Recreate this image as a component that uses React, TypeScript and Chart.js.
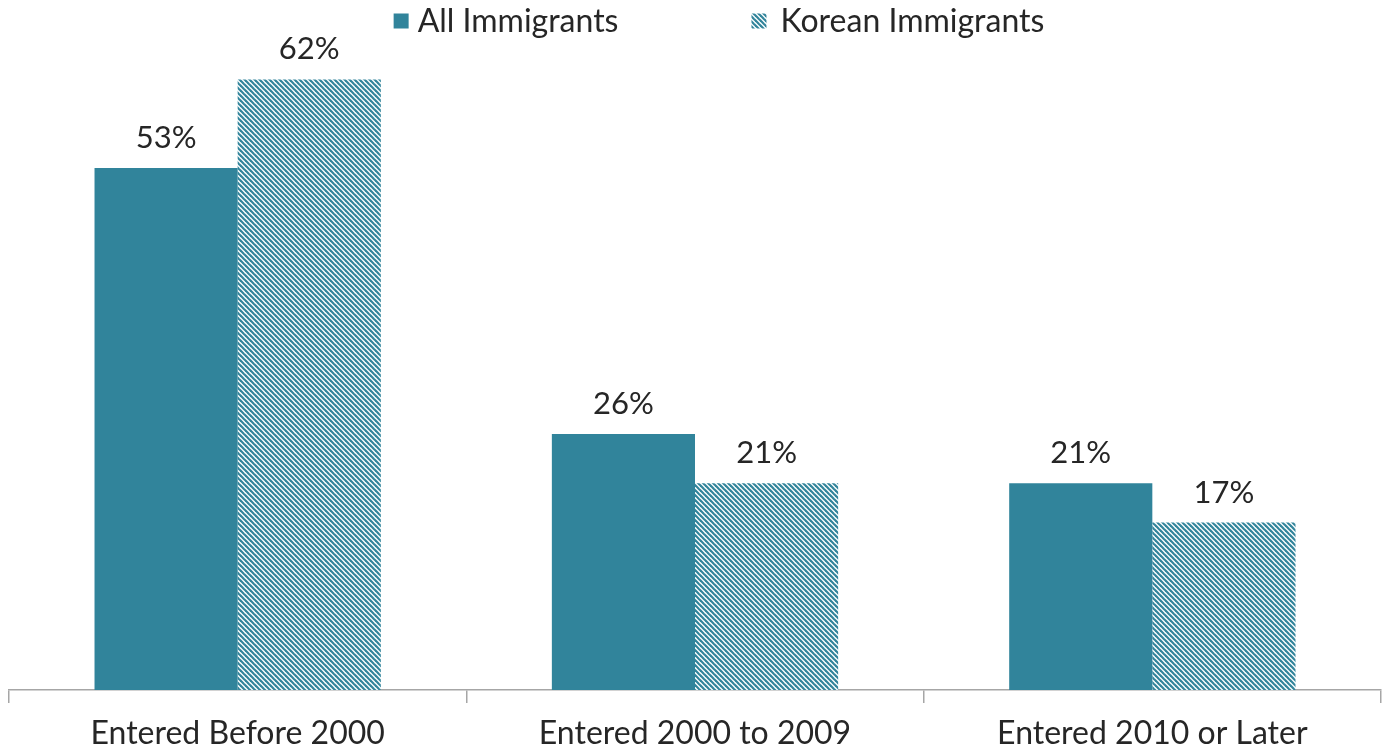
import React, { useEffect, useRef } from "react";
import { Chart, registerables } from "chart.js";

Chart.register(...registerables);

const categories = ["Entered Before 2000", "Entered 2000 to 2009", "Entered 2010 or Later"];
const seriesNames = ["All Immigrants", "Korean Immigrants"];
const allImmigrants = [53, 26, 21];
const koreanImmigrants = [62, 21, 17];

const TEAL = "#31849B";
const TEXT = "#262626";
const AXIS = "#a6a6a6";
const FONT = "Lato";

function makePattern(): CanvasPattern | string {
  const c = document.createElement("canvas");
  const s = 5;
  c.width = s;
  c.height = s;
  const ctx = c.getContext("2d");
  if (!ctx) return TEAL;
  ctx.fillStyle = "#ffffff";
  ctx.fillRect(0, 0, s, s);
  ctx.strokeStyle = TEAL;
  ctx.lineWidth = 2.2;
  for (const off of [-s, 0, s]) {
    ctx.beginPath();
    ctx.moveTo(off - 1, -1);
    ctx.lineTo(off + s + 1, s + 1);
    ctx.stroke();
  }
  const p = ctx.createPattern(c, "repeat");
  return p || TEAL;
}

const valueLabels = {
  id: "valueLabels",
  afterDatasetsDraw(chart: any) {
    const ctx = chart.ctx;
    ctx.save();
    ctx.font = `31px ${FONT}`;
    ctx.fillStyle = TEXT;
    ctx.textAlign = "center";
    ctx.textBaseline = "alphabetic";
    chart.data.datasets.forEach((ds: any, i: number) => {
      const meta = chart.getDatasetMeta(i);
      meta.data.forEach((bar: any, j: number) => {
        ctx.fillText(`${ds.data[j]}%`, bar.x, bar.y - 20);
      });
    });
    ctx.restore();
  },
};

const topLegend = {
  id: "topLegend",
  afterDraw(chart: any) {
    const ctx = chart.ctx;
    ctx.save();
    ctx.font = `32px ${FONT}`;
    ctx.textBaseline = "middle";
    ctx.textAlign = "left";
    const box = 15;
    const gaps = [9, 14];
    const itemGap = 133;
    const ds = chart.data.datasets;
    const widths = ds.map((d: any) => ctx.measureText(d.label).width);
    let total = 0;
    ds.forEach((_: any, i: number) => {
      total += box + gaps[i] + widths[i];
      if (i < ds.length - 1) total += itemGap;
    });
    let x = chart.width / 2 + 25 - total / 2;
    const cy = 21;
    ds.forEach((d: any, i: number) => {
      ctx.fillStyle = d.backgroundColor;
      ctx.fillRect(x, cy - box / 2, box, box);
      x += box + gaps[i];
      ctx.fillStyle = TEXT;
      ctx.fillText(d.label, x, cy + 1);
      x += widths[i] + itemGap;
    });
    ctx.restore();
  },
};

export default function App() {
  const ref = useRef<HTMLCanvasElement>(null);
  useEffect(() => {
    document.body.style.margin = "0";
    let chart: Chart | null = null;
    let cancelled = false;
    const build = () => {
      if (cancelled || !ref.current) return;
      const pattern = makePattern();
      chart = new Chart(ref.current, {
        type: "bar",
        data: {
          labels: categories,
          datasets: [
            {
              label: seriesNames[0],
              data: allImmigrants,
              backgroundColor: TEAL,
              borderWidth: 0,
              categoryPercentage: 0.626,
              barPercentage: 1,
            },
            {
              label: seriesNames[1],
              data: koreanImmigrants,
              backgroundColor: pattern as any,
              borderWidth: 0,
              categoryPercentage: 0.626,
              barPercentage: 1,
            },
          ],
        },
        options: {
          animation: false,
          responsive: false,
          maintainAspectRatio: false,
          layout: { padding: { left: 9, right: 7, top: 45, bottom: 0 } },
          plugins: {
            legend: { display: false },
            tooltip: { enabled: false },
          },
          scales: {
            x: {
              afterFit: (scale: any) => {
                scale.height = 61;
              },
              grid: {
                display: true,
                drawOnChartArea: false,
                drawTicks: true,
                tickLength: 13,
                color: AXIS,
                lineWidth: 1.5,
                offset: true,
              },
              border: { display: true, color: AXIS, width: 1.5 },
              ticks: {
                font: { family: FONT, size: 32 },
                color: TEXT,
                padding: 11,
              },
            },
            y: {
              display: false,
              min: 0,
              max: 65.5,
            },
          },
        },
        plugins: [valueLabels, topLegend],
      });
    };
    const fonts: any = (document as any).fonts;
    if (fonts && fonts.load) {
      fonts.load(`32px ${FONT}`).then(build, build);
    } else {
      build();
    }
    return () => {
      cancelled = true;
      if (chart) chart.destroy();
    };
  }, []);
  return (
    <div style={{ width: 1388, height: 751 }}>
      <canvas ref={ref} width={1388} height={751} style={{ width: 1388, height: 751, display: "block" }} />
    </div>
  );
}
